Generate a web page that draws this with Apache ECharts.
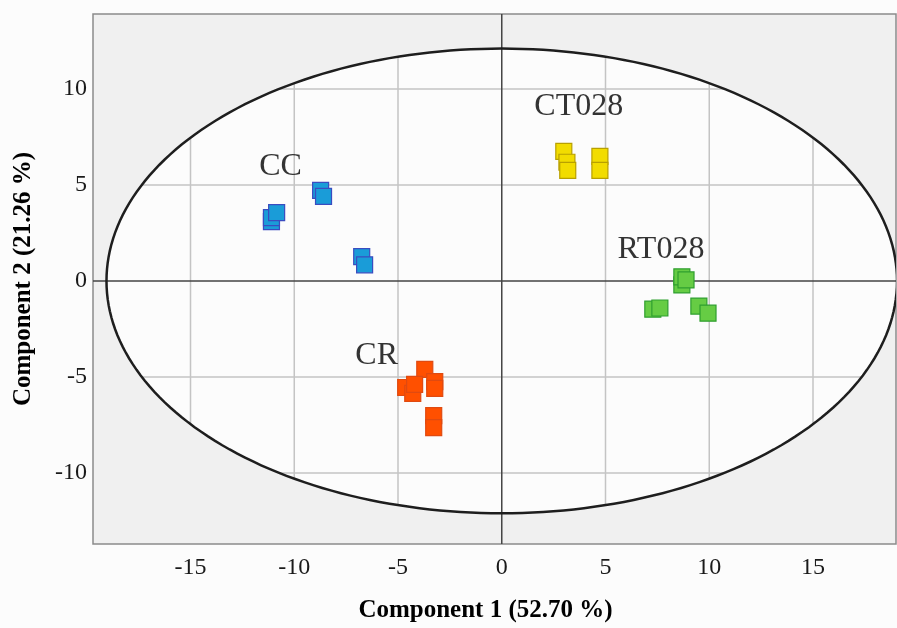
<!DOCTYPE html>
<html>
<head>
<meta charset="utf-8">
<script src="https://cdn.jsdelivr.net/npm/echarts@6/dist/echarts.min.js"></script>
<style>html,body{margin:0;padding:0;background:#fcfcfc}#c{width:897px;height:628px}</style>
</head>
<body>
<div id="c"></div>
<script>
// Data
const xTicks = [-15, -10, -5, 0, 5, 10, 15];
const yTicks = [-10, -5, 0, 5, 10];
const CC = [[-11.1, 3.09], [-11.1, 3.3], [-10.85, 3.56], [-8.73, 4.71], [-8.59, 4.40], [-6.75, 1.26], [-6.61, 0.84]];
const CR = [[-3.71, -4.61], [-4.63, -5.55], [-4.29, -5.86], [-4.20, -5.39], [-3.23, -5.24], [-3.23, -5.60], [-3.28, -7.02], [-3.28, -7.64]];
const CT028 = [[2.99, 6.75], [3.14, 6.18], [3.18, 5.76], [4.73, 6.49], [4.73, 5.76]];
const RT028 = [[8.68, -0.21], [8.68, 0.21], [8.88, 0.05], [7.28, -1.47], [7.62, -1.41], [9.50, -1.31], [9.94, -1.68]];
const groupLabels = [
  {name: 'CC', value: [-10.66, 5.97]},
  {name: 'CR', value: [-6.03, -3.87]},
  {name: 'CT028', value: [3.71, 9.06]},
  {name: 'RT028', value: [7.67, 1.62]}
];
const ellipseAxes = [19.05, 12.1];
const xRange = [-19.7, 19];
const yRange = [-13.7, 13.9];

const chart = echarts.init(document.getElementById('c'));
const serif = 'Liberation Serif, Times New Roman, serif';

function renderBackdrop(params, api) {
  const a = ellipseAxes[0], b = ellipseAxes[1];
  const pts = [];
  for (let i = 0; i <= 240; i++) {
    const t = 2 * Math.PI * i / 240;
    pts.push(api.coord([a * Math.cos(t), b * Math.sin(t)]));
  }
  const children = [];
  children.push({type: 'polygon', shape: {points: pts}, style: {fill: '#fcfcfc', stroke: null}});
  xTicks.filter(v => v !== 0).forEach(v => {
    const h = b * Math.sqrt(1 - (v / a) * (v / a));
    const p1 = api.coord([v, -h]), p2 = api.coord([v, h]);
    children.push({type: 'line', shape: {x1: p1[0], y1: p1[1], x2: p2[0], y2: p2[1]}, style: {stroke: '#c4c4c4', lineWidth: 1.5}});
  });
  yTicks.filter(v => v !== 0).forEach(v => {
    const w = a * Math.sqrt(1 - (v / b) * (v / b));
    const p1 = api.coord([-w, v]), p2 = api.coord([w, v]);
    children.push({type: 'line', shape: {x1: p1[0], y1: p1[1], x2: p2[0], y2: p2[1]}, style: {stroke: '#c4c4c4', lineWidth: 1.5}});
  });
  let p1 = api.coord([0, yRange[0]]), p2 = api.coord([0, yRange[1]]);
  children.push({type: 'line', shape: {x1: p1[0], y1: p1[1], x2: p2[0], y2: p2[1]}, style: {stroke: '#444', lineWidth: 1.5}});
  p1 = api.coord([xRange[0], 0]); p2 = api.coord([xRange[1], 0]);
  children.push({type: 'line', shape: {x1: p1[0], y1: p1[1], x2: p2[0], y2: p2[1]}, style: {stroke: '#444', lineWidth: 1.5}});
  children.push({type: 'polygon', shape: {points: pts}, style: {fill: null, stroke: '#1e1e1e', lineWidth: 2.5}});
  return {type: 'group', children: children};
}

function pts(name, data, fill, border) {
  return {
    type: 'scatter', name: name, data: data, symbol: 'rect', symbolSize: 16, z: 5,
    itemStyle: {color: fill, borderColor: border, borderWidth: 1.2, opacity: 1},
    emphasis: {disabled: true}
  };
}

chart.setOption({
  backgroundColor: '#fcfcfc',
  animation: false,
  grid: {left: 93, right: 1, top: 14, bottom: 84, outerBoundsMode: 'none', containLabel: false,
         show: true, backgroundColor: '#f0f0f0', borderColor: '#8a8a8a', borderWidth: 1.5},
  xAxis: {
    type: 'value', min: xRange[0], max: xRange[1],
    axisLine: {show: false}, axisTick: {show: false}, splitLine: {show: false},
    axisLabel: {customValues: xTicks, margin: 12, fontFamily: serif, fontSize: 24, color: '#1a1a1a'},
    name: 'Component 1 (52.70 %)', nameLocation: 'middle', nameGap: 54,
    nameTextStyle: {fontFamily: serif, fontSize: 25, fontWeight: 'bold', color: '#000', padding: [0, 18, 0, 0]}
  },
  yAxis: {
    type: 'value', min: yRange[0], max: yRange[1],
    axisLine: {show: false}, axisTick: {show: false}, splitLine: {show: false},
    axisLabel: {customValues: yTicks, margin: 6, fontFamily: serif, fontSize: 24, color: '#1a1a1a'},
    name: 'Component 2 (21.26 %)', nameLocation: 'middle', nameGap: 57,
    nameTextStyle: {fontFamily: serif, fontSize: 25, fontWeight: 'bold', color: '#000'}
  },
  series: [
    {type: 'custom', renderItem: renderBackdrop, data: [[0, 0]], silent: true, z: 1, clip: true},
    pts('CC', CC, '#1a9cd8', '#3a4cc0'),
    pts('CR', CR, '#ff5000', '#e04a10'),
    pts('CT028', CT028, '#f2dc00', '#b8a000'),
    pts('RT028', RT028, '#66cc44', '#2f9f2f'),
    {
      type: 'scatter', data: groupLabels, symbolSize: 1, z: 6, silent: true,
      itemStyle: {color: 'rgba(0,0,0,0)'},
      label: {show: true, position: 'inside', formatter: '{b}', fontFamily: serif, fontSize: 32, color: '#000'}
    }
  ]
});
</script>
</body>
</html>
